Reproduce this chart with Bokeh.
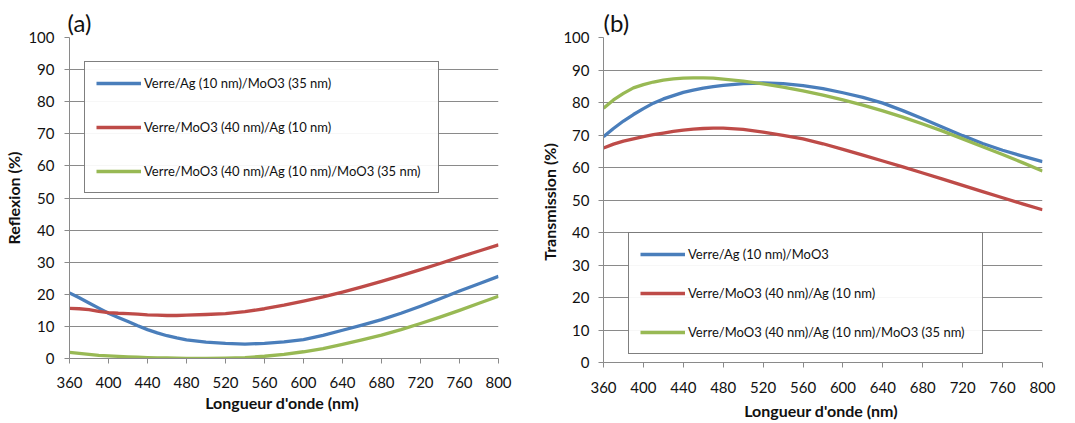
from bokeh.plotting import figure
from bokeh.layouts import row, column
from bokeh.models import Range1d, FixedTicker, Legend, LegendItem
from bokeh.embed import file_html
from bokeh.resources import INLINE

# ---------------- data ----------------
wavelength = [360, 370, 380, 390, 400, 410, 420, 430, 440, 450, 460, 470, 480,
              500, 520, 540, 560, 580, 600, 620, 640, 660, 680, 700, 720, 740,
              760, 780, 800]

# (a) Reflexion (%)
refl_ag_moo3 = [20.4, 18.9, 17.3, 15.7, 14.1, 12.8, 11.5, 10.2, 9.0, 8.0, 7.1, 6.4, 5.8,
                5.1, 4.7, 4.5, 4.7, 5.2, 5.9, 7.2, 8.8, 10.4, 12.1, 14.1, 16.3, 18.6,
                21.0, 23.3, 25.6]
refl_moo3_ag = [15.6, 15.5, 15.2, 14.7, 14.3, 14.1, 14.0, 13.8, 13.6, 13.5, 13.4, 13.4, 13.5,
                13.7, 14.0, 14.6, 15.5, 16.6, 17.9, 19.2, 20.7, 22.3, 24.0, 25.8, 27.7, 29.6,
                31.6, 33.5, 35.4]
refl_moo3_ag_moo3 = [1.9, 1.6, 1.3, 1.0, 0.8, 0.65, 0.5, 0.4, 0.3, 0.2, 0.15, 0.1, 0.05,
                     0.0, 0.1, 0.3, 0.7, 1.3, 2.1, 3.1, 4.4, 5.8, 7.3, 9.0, 10.9, 12.9,
                     15.0, 17.2, 19.4]

# (b) Transmission (%)
trans_ag_moo3 = [69.5, 72.0, 74.3, 76.3, 78.1, 79.8, 81.1, 82.1, 83.1, 83.8, 84.4, 84.9, 85.3,
                 85.8, 86.0, 85.8, 85.2, 84.3, 83.0, 81.6, 79.8, 77.5, 75.0, 72.4, 69.8, 67.4,
                 65.3, 63.5, 61.8]
trans_moo3_ag = [66.0, 67.2, 68.1, 68.8, 69.5, 70.1, 70.6, 71.1, 71.5, 71.8, 72.0, 72.1, 72.1,
                 71.7, 70.9, 69.9, 68.8, 67.3, 65.6, 63.8, 62.0, 60.2, 58.3, 56.4, 54.5, 52.6,
                 50.7, 48.8, 47.0]
trans_moo3_ag_moo3 = [78.2, 80.8, 82.8, 84.5, 85.5, 86.3, 86.9, 87.3, 87.5, 87.6, 87.6, 87.5, 87.2,
                      86.6, 85.7, 84.7, 83.6, 82.3, 80.8, 79.2, 77.4, 75.5, 73.4, 71.2, 68.8, 66.4,
                      64.0, 61.5, 58.9]

x_ticks = [360, 400, 440, 480, 520, 560, 600, 640, 680, 720, 760, 800]
y_ticks = [0, 10, 20, 30, 40, 50, 60, 70, 80, 90, 100]

labels_a = ["Verre/Ag (10 nm)/MoO3 (35 nm)",
            "Verre/MoO3 (40 nm)/Ag (10 nm)",
            "Verre/MoO3 (40 nm)/Ag (10 nm)/MoO3 (35 nm)"]
labels_b = ["Verre/Ag (10 nm)/MoO3",
            "Verre/MoO3 (40 nm)/Ag (10 nm)",
            "Verre/MoO3 (40 nm)/Ag (10 nm)/MoO3 (35 nm)"]
colors = ["#4A7EBB", "#BE4B48", "#98B954"]

FONT = "Lato"
GRID = "#8A8A8A"


def make(width, borders, ylabel, series, labels, legend_loc, legend_spacing, tag,
         tag_offset, ylab_standoff, yaxis_label_standoff, xtick_standoff, xlabel_standoff):
    left, right, top, bottom = borders
    p = figure(width=width, height=423, output_backend="svg", toolbar_location=None,
               x_range=Range1d(360, 800), y_range=Range1d(0, 100),
               min_border_left=left, min_border_right=right,
               min_border_top=top, min_border_bottom=bottom)
    p.outline_line_color = None
    p.background_fill_color = "white"
    p.border_fill_color = "white"

    p.title.text = tag
    p.title.text_font = FONT
    p.title.text_font_size = "24px"
    p.title.text_font_style = "normal"
    p.title.text_color = "#111111"
    p.title.align = "left"
    p.title.offset = tag_offset
    p.title.standoff = 2

    for ax in (p.xaxis, p.yaxis):
        ax.axis_line_color = GRID
        ax.major_tick_line_color = GRID
        ax.major_tick_out = 5
        ax.major_tick_in = 0
        ax.minor_tick_line_color = None
        ax.major_label_text_font = FONT
        ax.major_label_text_font_size = "15px"
        ax.major_label_text_color = "#111111"
        ax.axis_label_text_font = FONT
        ax.axis_label_text_font_size = "16px"
        ax.axis_label_text_font_style = "bold"
        ax.axis_label_text_color = "#111111"
    p.xaxis.ticker = FixedTicker(ticks=x_ticks)
    p.yaxis.ticker = FixedTicker(ticks=y_ticks)
    p.xaxis.major_label_standoff = xtick_standoff
    p.yaxis.major_label_standoff = ylab_standoff
    p.xaxis.axis_label = "Longueur d'onde  (nm)"
    p.yaxis.axis_label = ylabel
    p.xaxis.axis_label_standoff = xlabel_standoff
    p.yaxis.axis_label_standoff = yaxis_label_standoff

    p.xgrid.visible = False
    p.ygrid.grid_line_color = GRID
    p.ygrid.grid_line_width = 1

    items = []
    for ys, lab, c in zip(series, labels, colors):
        r = p.line(wavelength, ys, line_color=c, line_width=3.3, line_join="round")
        items.append(LegendItem(label=lab, renderers=[r]))

    legend = Legend(items=items, location=legend_loc, padding=11,
                    spacing=legend_spacing, label_height=20, glyph_height=20,
                    glyph_width=45, label_standoff=3, label_width=283,
                    border_line_color="black", border_line_width=1,
                    background_fill_color="white", background_fill_alpha=0.93,
                    label_text_font=FONT, label_text_font_size="13px",
                    label_text_color="#111111", margin=0)
    p.add_layout(legend)
    return p


pa = make(537, (69, 39, 37, 65), "Reflexion (%)",
          [refl_ag_moo3, refl_moo3_ag, refl_moo3_ag_moo3], labels_a,
          (15, 165), 24, "(a)", -2, 10, 2, 13, 2)
pb = make(538, (66, 33, 37, 61), "Transmission  (%)",
          [trans_ag_moo3, trans_moo3_ag, trans_moo3_ag_moo3], labels_b,
          (25, 8), 19, "(b)", 0, 9, 1, 14, 5)

layout = row(column(pa), column(pb), spacing=0)
open("out.html", "w").write(file_html(layout, INLINE))
